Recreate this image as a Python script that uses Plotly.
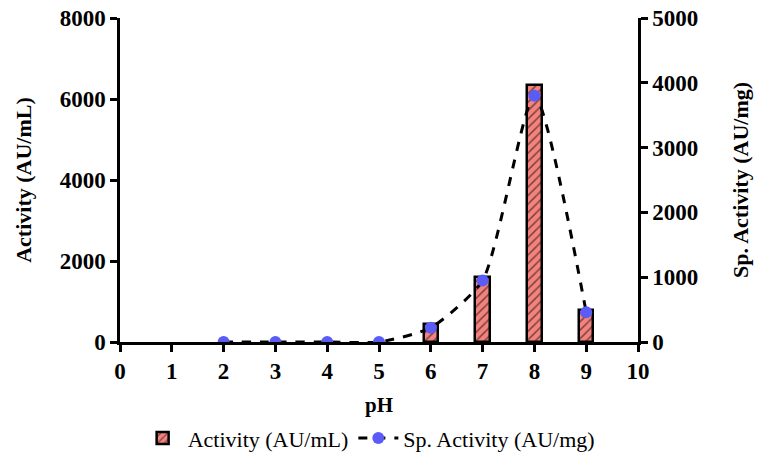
import plotly.graph_objects as go

ph_bars = [6, 7, 8, 9]
activity = [450, 1600, 6350, 800]
ph_sp = [2, 3, 4, 5, 6, 7, 8, 9]
sp_activity = [0, 0, 0, 0, 220, 950, 3800, 460]
x_ticks = list(range(0, 11))

font = "Liberation Serif"

fig = go.Figure()
fig.add_trace(go.Bar(
    x=ph_bars, y=activity, width=0.28, name="Activity (AU/mL)",
    marker=dict(color="#f4837d", line=dict(color="black", width=2.5),
                pattern=dict(shape="/", fgcolor="black", bgcolor="#f4837d", size=6, solidity=0.25)),
    yaxis="y",
))
fig.add_trace(go.Scatter(
    x=ph_sp, y=sp_activity, name="Sp. Activity (AU/mg)", mode="lines+markers",
    line=dict(color="black", width=3, dash="dash", shape="spline", smoothing=0.6),
    marker=dict(color="#5b5cf6", size=12),
    yaxis="y2",
))

axis_common = dict(
    showgrid=False, zeroline=False, showline=True, linecolor="black", linewidth=2.5,
    ticks="outside", ticklen=7, tickwidth=2.5, tickcolor="black", automargin=False,
    tickfont=dict(family=font, size=23, color="black", weight="bold"),
)
title_font = dict(family=font, size=22, color="black", weight="bold")

fig.update_layout(
    width=761, height=454,
    margin=dict(l=120, r=123, t=18, b=112),
    plot_bgcolor="white", paper_bgcolor="white",
    bargap=0,
    showlegend=True,
    legend=dict(orientation="h", x=0.48, xanchor="center", xref="paper",
                y=0.035, yanchor="middle", yref="container",
                font=dict(family=font, size=22, color="black"), itemwidth=40,
                tracegroupgap=0),
    xaxis=dict(range=[0, 10], tickvals=x_ticks,
               title=dict(text="pH", font=dict(family=font, size=21, color="black", weight="bold"), standoff=14),
               **axis_common),
    yaxis=dict(range=[0, 8000], tickvals=[0, 2000, 4000, 6000, 8000],
               title=dict(text="Activity (AU/mL)", font=title_font, standoff=22),
               **axis_common),
    yaxis2=dict(range=[0, 5000], tickvals=[0, 1000, 2000, 3000, 4000, 5000], overlaying="y", side="right",
                title=dict(text="Sp. Activity (AU/mg)", font=title_font, standoff=36),
                **axis_common),
)

fig.write_html("out.html")
